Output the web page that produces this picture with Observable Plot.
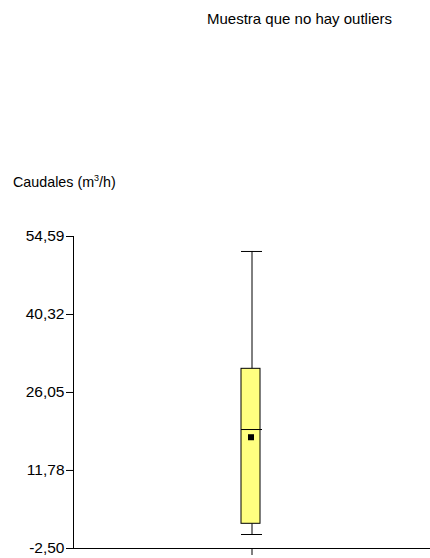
<!DOCTYPE html>
<html>
<head>
<meta charset="utf-8">
<script src="https://cdn.jsdelivr.net/npm/d3@7"></script>
<script src="https://cdn.jsdelivr.net/npm/@observablehq/plot@0.6"></script>
<style>
  html, body { margin: 0; padding: 0; background: #fff; }
  #wrap { position: relative; width: 430px; height: 558px; font-family: "Liberation Sans", Arial, sans-serif; color: #000; }
  #title { position: absolute; left: 207px; top: 10px; font-size: 15px; line-height: 17px; white-space: nowrap; }
  #ylabel { position: absolute; left: 13px; top: 170px; font-size: 14.3px; line-height: 17px; white-space: nowrap; }
  #ylabel sup { font-size: 9px; }
  #chart { position: absolute; left: 0; top: 0; }
</style>
</head>
<body>
<div id="wrap">
  <div id="chart"></div>
  <div id="title">Muestra que no hay outliers</div>
  <div id="ylabel">Caudales (m<sup>3</sup>/h)</div>
</div>
<script>
const categories = ["Caudales"];
const whiskerLow = [0.06];
const q1 = [2.02];
const median = [19.27];
const mean = [17.86];
const q3 = [30.38];
const whiskerHigh = [51.85];
const yTicks = [-2.50, 11.78, 26.05, 40.32, 54.59];
const yDomain = [-2.50, 54.59];

const data = categories.map((c, i) => ({
  cat: c, lo: whiskerLow[i], q1: q1[i], med: median[i], mean: mean[i], q3: q3[i], hi: whiskerHigh[i]
}));

const fmt = d => d.toFixed(2).replace(".", ",");

const chart = Plot.plot({
  width: 430,
  height: 558,
  marginTop: 236,
  marginBottom: 10,
  marginLeft: 73,
  marginRight: 0,
  style: { fontFamily: "Liberation Sans, Arial, sans-serif", fontSize: "15.5px", color: "#000", background: "transparent" },
  x: { type: "band", domain: categories, padding: 0, axis: null },
  y: { domain: yDomain, axis: null },
  marks: [
    Plot.axisY({ ticks: yTicks, tickFormat: fmt, tickSize: 7, tickPadding: 2, label: null, stroke: "#000", fontSize: 15.5 }),
    Plot.axisX({ tickSize: 7, tickFormat: () => "", label: null, stroke: "#000" }),
    Plot.frame({ anchor: "left", stroke: "#000" }),
    Plot.frame({ anchor: "bottom", stroke: "#000" }),
    Plot.ruleX(data, { x: "cat", y1: "q3", y2: "hi", stroke: "#000" }),
    Plot.ruleX(data, { x: "cat", y1: "lo", y2: "q1", stroke: "#000" }),
    Plot.tickY(data, { x: "cat", y: "hi", stroke: "#000", insetLeft: 168, insetRight: 168 }),
    Plot.tickY(data, { x: "cat", y: "lo", stroke: "#000", insetLeft: 168, insetRight: 168 }),
    Plot.rectY(data, { x: "cat", y1: "q1", y2: "q3", fill: "#ffff80", stroke: "#000", insetLeft: 168, insetRight: 170 }),
    Plot.tickY(data, { x: "cat", y: "med", stroke: "#000", insetLeft: 168, insetRight: 168 }),
    Plot.dot(data, { x: "cat", y: "mean", symbol: "square", r: 3.4, fill: "#000", stroke: null, dx: -1 })
  ]
});
document.getElementById("chart").appendChild(chart);
</script>
</body>
</html>
